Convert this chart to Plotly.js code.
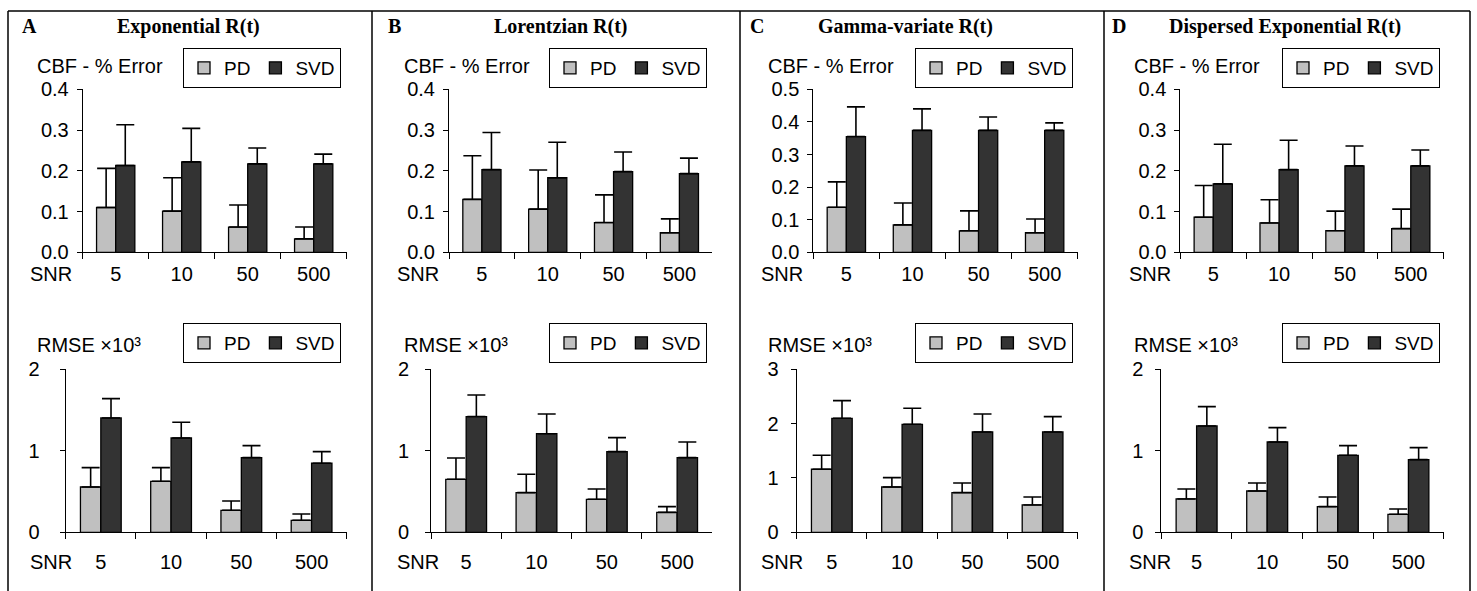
<!DOCTYPE html>
<html>
<head>
<meta charset="utf-8">
<script src="https://cdn.plot.ly/plotly-3.0.1.min.js"></script>
<style>html,body{margin:0;padding:0;background:#fff;}#chart{width:1477px;height:591px;}</style>
</head>
<body>
<div id="chart"></div>
<script>
// ---- Data ----
const snrLevels = ['5', '10', '50', '500'];
const seriesNames = ['PD', 'SVD'];
const panelLetters = ['A', 'B', 'C', 'D'];
const panelTitles = ['Exponential R(t)', 'Lorentzian R(t)', 'Gamma-variate R(t)', 'Dispersed Exponential R(t)'];
const cbfLabel = 'CBF - % Error';
const rmseLabel = 'RMSE ×10³';
const xLabel = 'SNR';

// Panel A – Exponential
const cbfPD_A = [0.110, 0.101, 0.062, 0.033];
const cbfPDerr_A = [0.096, 0.082, 0.054, 0.029];
const cbfSVD_A = [0.213, 0.222, 0.217, 0.217];
const cbfSVDerr_A = [0.100, 0.082, 0.039, 0.024];
const rmsePD_A = [0.556, 0.626, 0.270, 0.147];
const rmsePDerr_A = [0.237, 0.167, 0.114, 0.078];
const rmseSVD_A = [1.403, 1.157, 0.916, 0.847];
const rmseSVDerr_A = [0.237, 0.193, 0.147, 0.143];

// Panel B – Lorentzian
const cbfPD_B = [0.130, 0.106, 0.073, 0.048];
const cbfPDerr_B = [0.107, 0.096, 0.068, 0.034];
const cbfSVD_B = [0.203, 0.183, 0.198, 0.193];
const cbfSVDerr_B = [0.091, 0.087, 0.048, 0.038];
const rmsePD_B = [0.650, 0.487, 0.405, 0.245];
const rmsePDerr_B = [0.262, 0.225, 0.127, 0.070];
const rmseSVD_B = [1.420, 1.210, 0.990, 0.916];
const rmseSVDerr_B = [0.265, 0.242, 0.172, 0.192];

// Panel C – Gamma-variate
const cbfPD_C = [0.138, 0.084, 0.066, 0.060];
const cbfPDerr_C = [0.078, 0.067, 0.061, 0.042];
const cbfSVD_C = [0.355, 0.374, 0.374, 0.374];
const cbfSVDerr_C = [0.091, 0.066, 0.041, 0.023];
const rmsePD_C = [1.160, 0.834, 0.730, 0.503];
const rmsePDerr_C = [0.258, 0.172, 0.178, 0.147];
const rmseSVD_C = [2.098, 1.988, 1.847, 1.847];
const rmseSVDerr_C = [0.325, 0.294, 0.331, 0.282];

// Panel D – Dispersed Exponential
const cbfPD_D = [0.086, 0.072, 0.053, 0.058];
const cbfPDerr_D = [0.078, 0.057, 0.048, 0.048];
const cbfSVD_D = [0.168, 0.203, 0.212, 0.212];
const cbfSVDerr_D = [0.097, 0.072, 0.049, 0.039];
const rmsePD_D = [0.409, 0.507, 0.315, 0.221];
const rmsePDerr_D = [0.123, 0.098, 0.119, 0.065];
const rmseSVD_D = [1.305, 1.108, 0.945, 0.892];
const rmseSVDerr_D = [0.237, 0.176, 0.118, 0.147];

const cbfYMax = [0.4, 0.4, 0.5, 0.4];
const rmseYMax = [2, 2, 3, 2];

// ---- Layout geometry (pixels) ----
const W = 1477, H = 591;
const px = x => x / W;
const py = y => 1 - y / H;
const SANS = 'Liberation Sans, Arial, sans-serif';
const SERIF = 'Liberation Serif, Times New Roman, serif';
const FS = 20;
const LFS = 19;
const TFS = 20;

const topX = [[82.7, 346.7], [449, 712.3], [813.3, 1077.7], [1180.3, 1443.7]];
const botX = [[65.7, 346.7], [431, 712.3], [796.7, 1077.7], [1161.3, 1443.7]];
const topY = [89.3, 252.3];
const botY = [369.3, 532.3];
const legendRight = [341, 707, 1073, 1440];
const letterX = [29, 394, 757, 1119];
const titleX = [188, 561, 905, 1285];
const yTitleX = [35, 402, 766, 1132];
const snrX = [51, 418, 782, 1150];
const botStandoff = [16, 12, 8, 8];

const panels = [
  [cbfPD_A, cbfPDerr_A, cbfSVD_A, cbfSVDerr_A, rmsePD_A, rmsePDerr_A, rmseSVD_A, rmseSVDerr_A],
  [cbfPD_B, cbfPDerr_B, cbfSVD_B, cbfSVDerr_B, rmsePD_B, rmsePDerr_B, rmseSVD_B, rmseSVDerr_B],
  [cbfPD_C, cbfPDerr_C, cbfSVD_C, cbfSVDerr_C, rmsePD_C, rmsePDerr_C, rmseSVD_C, rmseSVDerr_C],
  [cbfPD_D, cbfPDerr_D, cbfSVD_D, cbfSVDerr_D, rmsePD_D, rmsePDerr_D, rmseSVD_D, rmseSVDerr_D]
];

const colors = ['#c0c0c0', '#333333'];
const traces = [];
const layout = {
  width: W, height: H,
  margin: {l: 0, r: 0, t: 0, b: 0},
  paper_bgcolor: '#ffffff', plot_bgcolor: '#ffffff',
  barmode: 'group', bargap: 0.42, bargroupgap: 0,
  font: {family: SANS, size: FS, color: '#000'},
  shapes: [], annotations: []
};

function bar(name, y, err, color, idx, legendName, show) {
  return {
    type: 'bar', name: name, x: snrLevels, y: y,
    xaxis: 'x' + (idx === 1 ? '' : idx), yaxis: 'y' + (idx === 1 ? '' : idx),
    marker: {color: color, line: {color: '#000', width: 1.3}},
    error_y: {type: 'data', array: err, arrayminus: err.map(() => 0), symmetric: false,
              color: '#000', thickness: 1.6, width: 9},
    legend: legendName, showlegend: show, hoverinfo: 'skip'
  };
}

function axes(idx, xd, yd, ymax, dtick, fmt, ystandoff, xstandoff) {
  const s = idx === 1 ? '' : String(idx);
  layout['xaxis' + s] = {
    domain: [px(xd[0]), px(xd[1])], anchor: 'y' + s,
    type: 'category', showline: true, linecolor: '#000', linewidth: 1,
    ticks: 'outside', tickson: 'boundaries', ticklen: 6, tickcolor: '#000', tickwidth: 1,
    showgrid: false, zeroline: false, fixedrange: true,
    tickfont: {family: SANS, size: FS, color: '#000'}, ticklabelstandoff: xstandoff
  };
  layout['yaxis' + s] = {
    domain: [py(yd[1]), py(yd[0])], anchor: 'x' + s,
    range: [0, ymax], dtick: dtick, tick0: 0, tickformat: fmt,
    showline: true, linecolor: '#000', linewidth: 1,
    ticks: 'outside', ticklen: 5, tickcolor: '#000', tickwidth: 1,
    showgrid: false, zeroline: false, fixedrange: true,
    tickfont: {family: SANS, size: FS, color: '#000'}, ticklabelstandoff: ystandoff
  };
}

function legendBox(name, right, top) {
  layout[name] = {
    x: px(right), xanchor: 'right', y: py(top), yanchor: 'top',
    orientation: 'h', bgcolor: '#ffffff', bordercolor: '#000', borderwidth: 1,
    font: {family: SANS, size: LFS, color: '#000'}, traceorder: 'normal',
    itemwidth: 30, tracegroupgap: 0, itemclick: false, itemdoubleclick: false
  };
}

for (let p = 0; p < 4; p++) {
  const d = panels[p];
  const iTop = 2 * p + 1, iBot = 2 * p + 2;
  const lgTop = iTop === 1 ? 'legend' : 'legend' + iTop;
  const lgBot = 'legend' + iBot;

  traces.push(bar(seriesNames[0], d[0], d[1], colors[0], iTop, lgTop, true));
  traces.push(bar(seriesNames[1], d[2], d[3], colors[1], iTop, lgTop, true));
  traces.push(bar(seriesNames[0], d[4], d[5], colors[0], iBot, lgBot, true));
  traces.push(bar(seriesNames[1], d[6], d[7], colors[1], iBot, lgBot, true));

  axes(iTop, topX[p], topY, cbfYMax[p], 0.1, '.1f', 4, 4);
  axes(iBot, botX[p], botY, rmseYMax[p], 1, 'd', botStandoff[p], 12);

  legendBox(lgTop, legendRight[p], 48);
  legendBox(lgBot, legendRight[p], 323);

  // panel letter and title
  layout.annotations.push({xref: 'paper', yref: 'paper', x: px(letterX[p]), y: py(26), xanchor: 'center', yanchor: 'middle',
    text: '<b>' + panelLetters[p] + '</b>', showarrow: false, font: {family: SERIF, size: TFS, color: '#000'}});
  layout.annotations.push({xref: 'paper', yref: 'paper', x: px(titleX[p]), y: py(26), xanchor: 'center', yanchor: 'middle',
    text: '<b>' + panelTitles[p] + '</b>', showarrow: false, font: {family: SERIF, size: TFS, color: '#000'}});
  // y titles
  layout.annotations.push({xref: 'paper', yref: 'paper', x: px(yTitleX[p]), y: py(66), xanchor: 'left', yanchor: 'middle',
    text: cbfLabel, showarrow: false, font: {family: SANS, size: FS, color: '#000'}});
  layout.annotations.push({xref: 'paper', yref: 'paper', x: px(yTitleX[p]), y: py(345), xanchor: 'left', yanchor: 'middle',
    text: rmseLabel, showarrow: false, font: {family: SANS, size: FS, color: '#000'}});
  // SNR labels
  layout.annotations.push({xref: 'paper', yref: 'paper', x: px(snrX[p]), y: py(274), xanchor: 'center', yanchor: 'middle',
    text: xLabel, showarrow: false, font: {family: SANS, size: FS, color: '#000'}});
  layout.annotations.push({xref: 'paper', yref: 'paper', x: px(snrX[p]), y: py(562), xanchor: 'center', yanchor: 'middle',
    text: xLabel, showarrow: false, font: {family: SANS, size: FS, color: '#000'}});
}

// frame lines
const frameX = [8, 372, 740, 1104, 1470];
layout.shapes.push({type: 'line', xref: 'paper', yref: 'paper', x0: px(8), x1: px(1470), y0: py(11), y1: py(11),
  line: {color: '#000', width: 1.5}});
frameX.forEach(x => layout.shapes.push({type: 'line', xref: 'paper', yref: 'paper', x0: px(x), x1: px(x), y0: py(11), y1: 0,
  line: {color: '#000', width: 1.5}}));

Plotly.newPlot('chart', traces, layout, {staticPlot: true, displayModeBar: false});
</script>
</body>
</html>
